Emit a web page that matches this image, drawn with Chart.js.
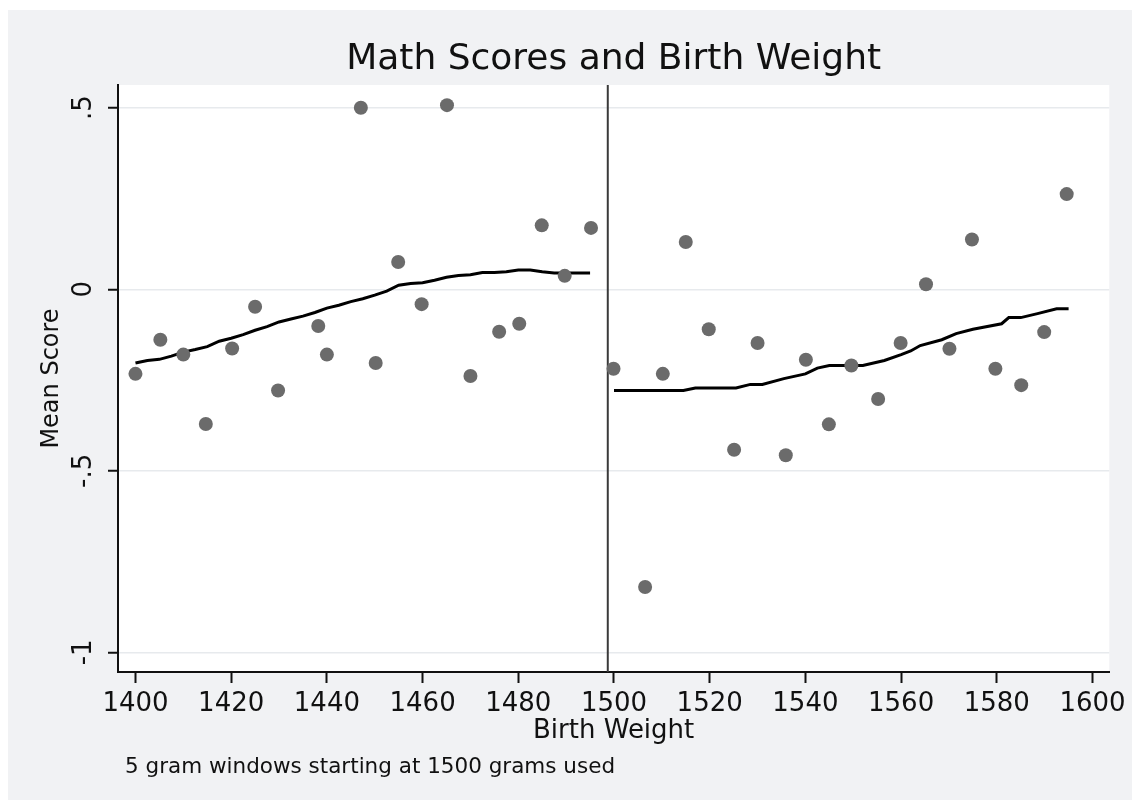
<!DOCTYPE html>
<html>
<head>
<meta charset="utf-8">
<script src="https://cdn.jsdelivr.net/npm/chart.js@4.4.1/dist/chart.umd.min.js"></script>
<style>
html, body { margin:0; padding:0; background:#fff; }
#wrap { position:absolute; left:8px; top:10px; width:1124px; height:790px; background:#f1f2f4; }
</style>
</head>
<body>
<div id="wrap"><canvas id="c" width="1124" height="790"></canvas></div>
<script>
// scatter: mean score per window, left of the cutoff
const leftX = [1400, 1405.2, 1410, 1414.7, 1420.2, 1425, 1429.8, 1438.2, 1440, 1447.1, 1450.2, 1454.9, 1459.8, 1465.1, 1470, 1476, 1480.2, 1484.9, 1489.7, 1495.2];
const leftY = [-0.233, -0.139, -0.180, -0.371, -0.163, -0.048, -0.279, -0.101, -0.180, 0.500, -0.203, 0.075, -0.041, 0.507, -0.239, -0.117, -0.095, 0.176, 0.037, 0.169];

// right of the cutoff
const rightX = [1499.9, 1506.5, 1510.2, 1515, 1519.8, 1525.1, 1530, 1535.9, 1540.1, 1544.9, 1549.6, 1555.2, 1559.9, 1565.2, 1570.1, 1574.8, 1579.7, 1585.1, 1589.9, 1594.6];
const rightY = [-0.219, -0.820, -0.233, 0.130, -0.110, -0.442, -0.148, -0.457, -0.194, -0.372, -0.210, -0.302, -0.148, 0.014, -0.164, 0.137, -0.219, -0.264, -0.118, 0.262];

// smoothed fit lines
const fitLeftX = [1400, 1402.5, 1405, 1407.5, 1410, 1412.5, 1415, 1417.5, 1420, 1422.5, 1425, 1427.5, 1430, 1432.5, 1435, 1437.5, 1440, 1442.5, 1445, 1447.5, 1450, 1452.5, 1455, 1457.5, 1460, 1462.5, 1465, 1467.5, 1470, 1472.5, 1475, 1477.5, 1480, 1482.5, 1485, 1487.5, 1490, 1495];
const fitLeftY = [-0.203, -0.196, -0.193, -0.184, -0.173, -0.166, -0.158, -0.143, -0.135, -0.125, -0.113, -0.103, -0.090, -0.082, -0.074, -0.064, -0.052, -0.044, -0.034, -0.026, -0.016, -0.005, 0.011, 0.016, 0.018, 0.025, 0.033, 0.038, 0.040, 0.046, 0.046, 0.048, 0.053, 0.053, 0.048, 0.045, 0.045, 0.045];

const fitRightX = [1500, 1505, 1510, 1514.5, 1517, 1525.5, 1528.5, 1531, 1535.5, 1540, 1542.5, 1545, 1552, 1556.5, 1560, 1562, 1564, 1568.5, 1571.5, 1575, 1581, 1582.5, 1585, 1588.5, 1592.5, 1595];
const fitRightY = [-0.279, -0.279, -0.279, -0.279, -0.272, -0.272, -0.262, -0.262, -0.246, -0.233, -0.217, -0.210, -0.210, -0.196, -0.180, -0.170, -0.155, -0.139, -0.122, -0.110, -0.095, -0.078, -0.078, -0.067, -0.054, -0.054];

const cutoff = 1498.7;

const xTicks = [1400, 1420, 1440, 1460, 1480, 1500, 1520, 1540, 1560, 1580, 1600];
const yTicks = [0.5, 0, -0.5, -1];
const yTickLabels = [".5", "0", "-.5", "-1"];
const xMin = 1396.35, xMax = 1603.5;
const yMin = -1.054, yMax = 0.5625;

const titleText = "Math Scores and Birth Weight";
const xTitle = "Birth Weight";
const yTitle = "Mean Score";
const note = "5 gram windows starting at 1500 grams used";

const FONT = "DejaVu Sans";
const INK = "#111";

const pts = (xs, ys) => xs.map((x, i) => ({ x, y: ys[i] }));

const plotBg = {
    id: "plotBg",
    beforeDraw(chart){
        const { ctx, chartArea: a } = chart;
        ctx.save();
        ctx.fillStyle = "#fff";
        ctx.fillRect(a.left, a.top, a.right - a.left, a.bottom - a.top);
        ctx.restore();
    }
};

// rotated y tick labels + footnote
const extraText = {
    id: "extraText",
    afterDraw(chart){
        const { ctx } = chart;
        const ys = chart.scales.y;
        ctx.save();
        ctx.fillStyle = INK;
        ctx.font = `26px "${FONT}"`;
        ctx.textAlign = "center";
        ctx.textBaseline = "alphabetic";
        yTicks.forEach((v, i) => {
            ctx.save();
            ctx.translate(83, ys.getPixelForValue(v));
            ctx.rotate(-Math.PI / 2);
            ctx.fillText(yTickLabels[i], 0, 0);
            ctx.restore();
        });
        ctx.font = `21.5px "${FONT}"`;
        ctx.textAlign = "left";
        ctx.fillText(note, 117, 763);
        ctx.restore();
    }
};

new Chart(document.getElementById("c").getContext("2d"), {
    type: "scatter",
    data: {
        datasets: [
            { data: pts(leftX, leftY), backgroundColor: "#6b6b6b", borderWidth: 0, pointRadius: 7 },
            { data: pts(rightX, rightY), backgroundColor: "#6b6b6b", borderWidth: 0, pointRadius: 7 },
            { data: pts(fitLeftX, fitLeftY), showLine: true, borderColor: "#000", borderWidth: 3, pointRadius: 0 },
            { data: pts(fitRightX, fitRightY), showLine: true, borderColor: "#000", borderWidth: 3, pointRadius: 0 },
            { data: [{ x: cutoff, y: yMin }, { x: cutoff, y: yMax }], showLine: true, borderColor: "#3a3a3a", borderWidth: 2, pointRadius: 0 }
        ]
    },
    options: {
        responsive: false,
        animation: false,
        devicePixelRatio: 1,
        layout: { padding: { left: 0, right: 17, top: 0, bottom: 0 } },
        plugins: {
            legend: { display: false },
            tooltip: { enabled: false },
            title: {
                display: true, text: titleText, fullSize: false, color: INK,
                font: { family: FONT, size: 36, weight: "normal" },
                padding: { top: 28.4, bottom: 3.4 }
            }
        },
        scales: {
            x: {
                type: "linear", min: xMin, max: xMax,
                afterBuildTicks: s => { s.ticks = xTicks.map(v => ({ value: v })); },
                afterFit: s => { s.height = 128; },
                grid: { drawOnChartArea: false, drawTicks: true, tickLength: 11, tickColor: INK, tickWidth: 2 },
                border: { color: INK, width: 2 },
                ticks: { padding: 6, color: INK, font: { family: FONT, size: 26 }, maxRotation: 0, autoSkip: false, callback: v => String(v) },
                title: { display: true, text: xTitle, color: INK, font: { family: FONT, size: 26 }, padding: { top: 0, bottom: 53 } }
            },
            y: {
                type: "linear", min: yMin, max: yMax,
                afterBuildTicks: s => { s.ticks = yTicks.map(v => ({ value: v })); },
                afterFit: s => { s.width = 110; },
                grid: { color: "#e7eaed", lineWidth: 1.5, tickLength: 10, tickColor: INK, tickWidth: 2 },
                border: { color: INK, width: 2 },
                ticks: { display: false },
                title: { display: true, text: yTitle, color: INK, font: { family: FONT, size: 24 }, padding: { top: 29 } }
            }
        }
    },
    plugins: [plotBg, extraText]
});
</script>
</body>
</html>
